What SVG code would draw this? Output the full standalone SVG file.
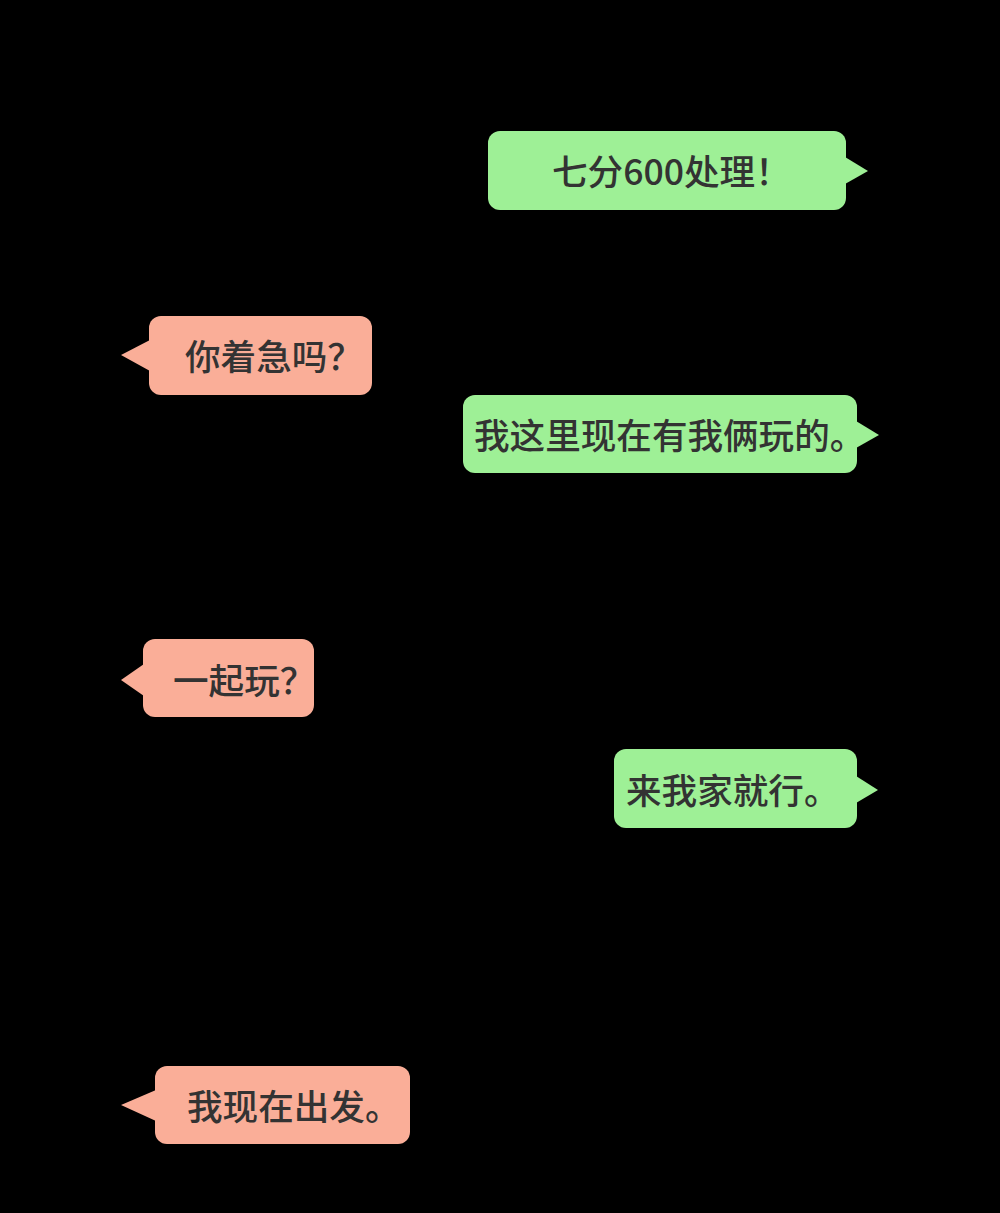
<svg xmlns="http://www.w3.org/2000/svg" width="1000" height="1213" viewBox="0 0 1000 1213">
<style>
.g{fill:#9ef096}
.s{fill:#faae98}
.t{font-family:"Noto Sans CJK SC","Noto Sans",sans-serif;font-size:35.6px;font-weight:500;fill:#333333}
</style>
<rect x="0" y="0" width="1000" height="1213" fill="#000000"/>
<g id="msg1">
<rect class="g" x="488" y="131" width="358" height="79" rx="12"/>
<polygon class="g" points="845,157 868,171 845,184"/>
<text class="t" x="552" y="185">七分600处理！</text>
</g>
<g id="msg2">
<rect class="s" x="149" y="316" width="223" height="79" rx="12"/>
<polygon class="s" points="150,340 121,355 150,371"/>
<text class="t" x="185" y="370">你着急吗？</text>
</g>
<g id="msg3">
<rect class="g" x="463" y="395" width="394" height="78" rx="12"/>
<polygon class="g" points="856,421 879,435 856,448"/>
<text class="t" x="474" y="449">我这里现在有我俩玩的。</text>
</g>
<g id="msg4">
<rect class="s" x="143" y="639" width="171" height="78" rx="12"/>
<polygon class="s" points="144,664 121,680 144,696"/>
<text class="t" x="173" y="694">一起玩？</text>
</g>
<g id="msg5">
<rect class="g" x="614" y="749" width="243" height="79" rx="12"/>
<polygon class="g" points="856,776 878,790 856,803"/>
<text class="t" x="626" y="804">来我家就行。</text>
</g>
<g id="msg6">
<rect class="s" x="155" y="1066" width="255" height="78" rx="12"/>
<polygon class="s" points="156,1090 121,1105 156,1121"/>
<text class="t" x="187" y="1120">我现在出发。</text>
</g>
<g id="connectors"></g>
</svg>
